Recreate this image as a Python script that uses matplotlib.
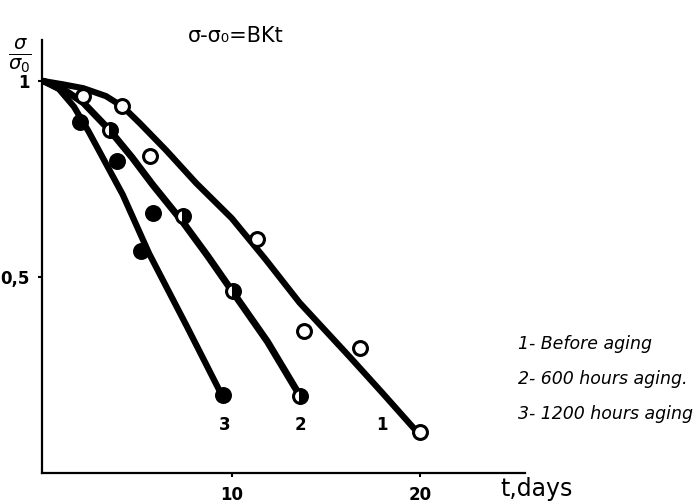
import matplotlib.pyplot as plt

# measured points (sigma / sigma0 against t, days)
t_before = [2.07, 4.15, 5.64, 11.33, 13.83, 16.81, 20.0]
s_before = [0.962, 0.936, 0.809, 0.597, 0.362, 0.319, 0.105]

t_600 = [3.51, 7.39, 10.05, 13.62]
s_600 = [0.875, 0.656, 0.464, 0.196]

t_1200 = [1.91, 3.88, 5.80, 5.16, 9.52]
s_1200 = [0.895, 0.796, 0.663, 0.566, 0.199]

# hand-drawn fitted curves
t_fit1 = [0, 1.0, 2.1, 3.3, 4.2, 5.1, 6.5, 8.1, 10.0, 11.8, 13.6, 16.3, 18.0, 19.8]
s_fit1 = [1.0, 0.992, 0.982, 0.962, 0.935, 0.893, 0.824, 0.740, 0.650, 0.545, 0.435, 0.295, 0.205, 0.108]

t_fit2 = [0, 1.2, 2.1, 3.5, 4.7, 5.8, 7.4, 8.7, 10.05, 11.9, 13.6]
s_fit2 = [1.0, 0.974, 0.945, 0.875, 0.805, 0.735, 0.640, 0.555, 0.462, 0.335, 0.199]

t_fit3 = [0, 0.8, 1.6, 2.4, 3.3, 4.2, 5.6, 7.6, 9.4]
s_fit3 = [1.0, 0.980, 0.935, 0.870, 0.790, 0.710, 0.560, 0.375, 0.205]

curve_names = ['1', '2', '3']
curve_label_x = [17.98, 13.67, 9.63]
legend_lines = ['1- Before aging', '2- 600 hours aging.', '3- 1200 hours aging']

fig = plt.figure(figsize=(7, 5.04), dpi=100)
ax = fig.add_axes([0.06, 0.0615, 0.69, 0.859])

lw = 4.5
for tx, sy, w in [(t_fit1, s_fit1, lw), (t_fit2, s_fit2, lw + 0.5), (t_fit3, s_fit3, lw)]:
    ax.plot(tx, sy, color='black', lw=w, solid_capstyle='round', solid_joinstyle='round')

ms = 10
ax.plot(t_before, s_before, 'o', ms=ms, mfc='white', mec='black', mew=2.2, zorder=3)
ax.plot(t_600, s_600, 'o', ms=ms, fillstyle='right', mfc='black', mfcalt='white',
        mec='black', mew=2.2, zorder=3)
ax.plot(t_1200, s_1200, 'o', ms=ms, mfc='black', mec='black', mew=2.2, zorder=3)

for name, x in zip(curve_names, curve_label_x):
    ax.text(x, 0.122, name, ha='center', va='center', fontsize=12, fontweight='bold')

ax.set_xlim(-0.1, 25.6)
ax.set_ylim(0, 1.105)
ax.spines['top'].set_visible(False)
ax.spines['right'].set_visible(False)
ax.spines['left'].set_linewidth(1.6)
ax.spines['bottom'].set_linewidth(1.6)

ax.set_xticks([10, 20])
ax.set_xticklabels(['10', '20'], fontsize=12, fontweight='bold')
ax.set_yticks([0.5, 1])
ax.set_yticklabels(['0,5', '1'], fontsize=12, fontweight='bold')
ax.tick_params(length=3, width=1.5, pad=6)

ax.text(26.2, -0.04, 't,days', ha='center', va='center', fontsize=17, clip_on=False)
ax.text(-0.046, 1.066, r'$\frac{\sigma}{\sigma_0}$', transform=ax.get_yaxis_transform(),
        ha='center', va='center', fontsize=20)
ax.text(10.2, 1.115, 'σ-σ₀=BKt', ha='center', va='center', fontsize=15, clip_on=False)

for i, line in enumerate(legend_lines):
    fig.text(518 / 700, 1 - (344 + 35 * i) / 504, line, ha='left', va='center',
             fontsize=12.5, style='italic')

fig.savefig('out.png', dpi=100)
